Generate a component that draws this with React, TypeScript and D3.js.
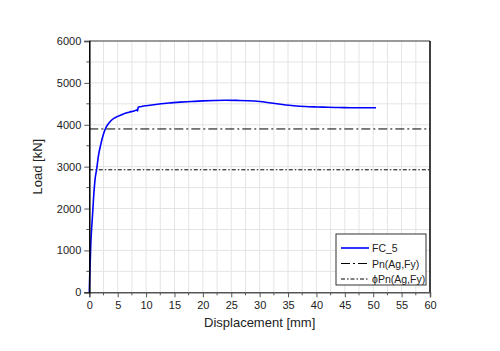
import * as React from 'react'
import { useEffect, useRef } from 'react'
import * as d3 from 'd3'

// FC_5 load-displacement curve [mm, kN]
const dispMm = [0, 0.05, 0.1, 0.18, 0.25, 0.4, 0.55, 0.75, 1.0, 1.3, 1.6, 2.0, 2.5, 3.0, 3.5, 4.0, 5.0, 6.0, 7.0, 8.0, 8.4, 8.5, 8.6, 9, 10, 12, 14, 16, 18, 20, 22, 24, 26, 28, 30, 32, 34, 36, 38, 40, 42, 44, 46, 48, 50.5]
const loadKn = [0, 250, 500, 800, 1100, 1500, 1800, 2250, 2680, 2940, 3250, 3520, 3780, 3950, 4050, 4120, 4200, 4260, 4300, 4335, 4355, 4330, 4420, 4432, 4455, 4490, 4520, 4540, 4555, 4570, 4580, 4585, 4582, 4575, 4555, 4520, 4485, 4455, 4435, 4425, 4418, 4412, 4408, 4405, 4405]

const pnAgFy = 3900
const phiPnAgFy = 2925

const xTicks = [0, 5, 10, 15, 20, 25, 30, 35, 40, 45, 50, 55, 60]
const yTicks = [0, 1000, 2000, 3000, 4000, 5000, 6000]

const legendItems = ['FC_5', 'Pn(Ag,Fy)', 'ϕPn(Ag,Fy)']

const WIDTH = 500
const HEIGHT = 351
const FONT = 'Arial, "Liberation Sans", sans-serif'

export default function App() {
  const svgRef = useRef<SVGSVGElement>(null)

  useEffect(() => {
    if (!svgRef.current) return
    const svg = d3.select(svgRef.current)
    svg.selectAll('*').remove()

    const left = 89.3
    const right = 430
    const top = 41
    const bottom = 292.3

    const x = d3.scaleLinear().domain([0, 60]).range([left, right])
    const y = d3.scaleLinear().domain([0, 6000]).range([bottom, top])

    svg.append('rect').attr('width', WIDTH).attr('height', HEIGHT).attr('fill', '#fff')

    // grid (major + minor)
    const grid = svg.append('g')
    d3.range(2.5, 60, 2.5).forEach(v => {
      grid.append('line')
        .attr('x1', x(v)).attr('x2', x(v))
        .attr('y1', top).attr('y2', bottom)
        .attr('stroke', '#e4e4e4').attr('stroke-width', 1)
    })
    d3.range(500, 6000, 500).forEach(v => {
      grid.append('line')
        .attr('x1', left).attr('x2', right)
        .attr('y1', y(v)).attr('y2', y(v))
        .attr('stroke', '#e4e4e4').attr('stroke-width', 1)
    })

    // reference lines
    svg.append('line')
      .attr('x1', left).attr('x2', right)
      .attr('y1', y(pnAgFy)).attr('y2', y(pnAgFy))
      .attr('stroke', '#000').attr('stroke-width', 1)
      .attr('stroke-dasharray', '9,3,2,3')
    svg.append('line')
      .attr('x1', left).attr('x2', right)
      .attr('y1', y(phiPnAgFy)).attr('y2', y(phiPnAgFy))
      .attr('stroke', '#000').attr('stroke-width', 1)
      .attr('stroke-dasharray', '4,2,1.5,2')

    // curve
    const pts = dispMm.map((d, i) => [d, loadKn[i]] as [number, number])
    const line = d3.line<[number, number]>()
      .x(d => x(d[0]))
      .y(d => y(d[1]))
      .curve(d3.curveMonotoneX)
    svg.append('path')
      .attr('d', line(pts)!)
      .attr('fill', 'none')
      .attr('stroke', '#0000ff')
      .attr('stroke-width', 1.6)

    // frame
    svg.append('line').attr('x1', left).attr('x2', right).attr('y1', top).attr('y2', top)
      .attr('stroke', '#777').attr('stroke-width', 1.5)
    svg.append('line').attr('x1', right).attr('x2', right).attr('y1', top).attr('y2', bottom)
      .attr('stroke', '#000').attr('stroke-width', 1.5)

    // bottom axis
    const xAxis = d3.axisBottom(x).tickValues(xTicks).tickSize(5).tickPadding(4).tickFormat(d3.format('d'))
    const gx = svg.append('g').attr('transform', `translate(0,${bottom})`).call(xAxis as any)
    gx.select('.domain').attr('stroke', '#555').attr('stroke-width', 1.5)
    gx.selectAll('.tick line').attr('stroke', '#555')
    gx.selectAll('.tick text').attr('font-size', '11px').attr('font-family', FONT).attr('fill', '#222')
    d3.range(2.5, 60, 5).forEach(v => {
      gx.append('line').attr('x1', x(v)).attr('x2', x(v)).attr('y1', 0).attr('y2', 3)
        .attr('stroke', '#555')
    })

    // left axis
    const yAxis = d3.axisLeft(y).tickValues(yTicks).tickSize(5).tickPadding(3).tickFormat(d3.format('d'))
    const gy = svg.append('g').attr('transform', `translate(${left},0)`).call(yAxis as any)
    gy.select('.domain').attr('stroke', '#000').attr('stroke-width', 1.5)
    gy.selectAll('.tick line').attr('stroke', '#555')
    gy.selectAll('.tick text').attr('font-size', '11px').attr('font-family', FONT).attr('fill', '#222')
    d3.range(500, 6000, 1000).forEach(v => {
      gy.append('line').attr('x1', 0).attr('x2', -3).attr('y1', y(v)).attr('y2', y(v))
        .attr('stroke', '#555')
    })

    // axis titles
    svg.append('text')
      .attr('x', (left + right) / 2).attr('y', 327)
      .attr('text-anchor', 'middle')
      .attr('font-size', '13px').attr('font-family', FONT).attr('fill', '#222')
      .text('Displacement [mm]')
    svg.append('text')
      .attr('transform', `translate(42,${(top + bottom) / 2}) rotate(-90)`)
      .attr('text-anchor', 'middle')
      .attr('font-size', '13px').attr('font-family', FONT).attr('fill', '#222')
      .text('Load [kN]')

    // legend
    const lg = svg.append('g').attr('transform', 'translate(336,234)')
    lg.append('rect')
      .attr('width', 90).attr('height', 51)
      .attr('fill', '#fff').attr('stroke', '#333').attr('stroke-width', 1)
    const dashes = [null, '9,3,2,3', '4,2,1.5,2']
    const colors = ['#0000ff', '#000', '#000']
    legendItems.forEach((label, i) => {
      const yy = 14 + i * 15.5
      const l = lg.append('line')
        .attr('x1', 5).attr('x2', 33).attr('y1', yy).attr('y2', yy)
        .attr('stroke', colors[i]).attr('stroke-width', i === 0 ? 1.6 : 1)
      if (dashes[i]) l.attr('stroke-dasharray', dashes[i]!)
      lg.append('text')
        .attr('x', 36).attr('y', yy)
        .attr('dominant-baseline', 'central')
        .attr('font-size', '10.5px').attr('font-family', FONT).attr('fill', '#222')
        .text(label)
    })
  }, [])

  return (
    <div style={{ position: 'absolute', left: 0, top: 0 }}>
      <svg ref={svgRef} width={WIDTH} height={HEIGHT} style={{ display: 'block' }} />
    </div>
  )
}
